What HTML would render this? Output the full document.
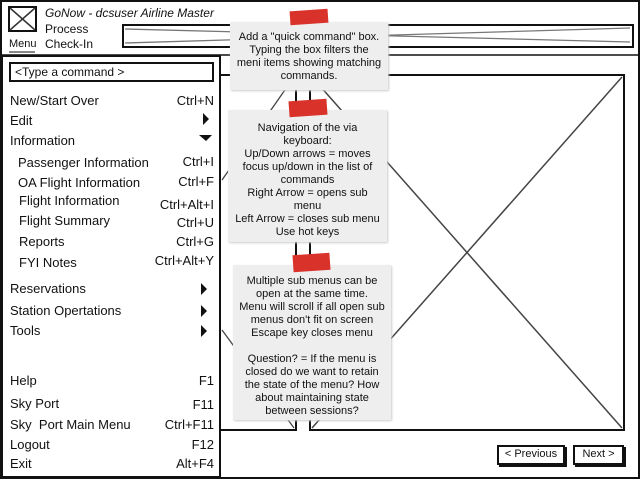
<!DOCTYPE html>
<html><head><meta charset="utf-8"><style>
body{margin:0;width:640px;height:480px;overflow:hidden;background:#fff;font-family:"Liberation Sans",sans-serif;color:#111;position:relative}
.t{position:absolute;font-size:13px;white-space:nowrap;line-height:15px}
.r{text-align:right}
.note{position:absolute;background:#eee;font-size:11px;line-height:13px;text-align:center;box-shadow:1px 1px 2px #ccc}
.tape{position:absolute;background:#d9322b;transform:rotate(-4deg)}
.btn{position:absolute;border:2px solid #111;box-shadow:2px 2px 0 #111;font-size:11px;text-align:center;line-height:15px;background:#fff}
</style></head><body>
<svg width="640" height="480" style="position:absolute;left:0;top:0">
<rect x="1" y="1" width="638" height="477" fill="none" stroke="#111" stroke-width="2"/>
<line x1="0" y1="55" x2="640" y2="55" stroke="#111" stroke-width="1.5"/>
<rect x="9" y="7" width="27" height="24" fill="none" stroke="#111" stroke-width="2"/>
<path d="M10 8L35 30M35 8L10 30" stroke="#333" stroke-width="1.5"/>
<line x1="9" y1="52" x2="35" y2="52" stroke="#111"/>
<rect x="123" y="25" width="510" height="22" fill="none" stroke="#111" stroke-width="2"/>
<path d="M125 29L630 42M125 43L630 28" fill="none" stroke="#777" stroke-width="1.3"/>
<rect x="310" y="75" width="314" height="355" fill="none" stroke="#111" stroke-width="2"/>
<path d="M312 77L622 428M622 77L312 428" stroke="#444" stroke-width="1.5"/>
<path d="M220 75H296V430H220" fill="none" stroke="#111" stroke-width="2"/>
<path d="M294 77L222 180M222 330L294 428" stroke="#444" stroke-width="1.3"/>
<line x1="296" y1="75" x2="296" y2="430" stroke="#111" stroke-width="2"/>
<line x1="310" y1="75" x2="310" y2="430" stroke="#111" stroke-width="2"/>
<rect x="2" y="56" width="218" height="421" fill="#fff" stroke="#111" stroke-width="2"/>
<rect x="10" y="63" width="203" height="18" fill="none" stroke="#111" stroke-width="2"/>
<path d="M203 113l6 6-6 6zM199 135h13l-6 6z" fill="#111"/>
<path d="M201 283l6 6-6 6zM201 305l6 6-6 6zM201 325l6 6-6 6z" fill="#111"/>
</svg>
<div class="t" style="left:45px;top:6px;font-size:12px;font-style:italic">GoNow - dcsuser Airline Master</div>
<div class="t" style="left:45px;top:22px;font-size:12px">Process</div>
<div class="t" style="left:45px;top:37px;font-size:12px">Check-In</div>
<div class="t" style="left:9px;top:37px;font-size:11px">Menu</div>
<div class="t" style="left:15px;top:65px;font-size:12px">&lt;Type a command &gt;</div>
<div class="t" style="left:10px;top:93px">New/Start Over</div><div class="t r" style="right:426px;top:93px">Ctrl+N</div>
<div class="t" style="left:10px;top:113px">Edit</div>
<div class="t" style="left:10px;top:133px">Information</div>
<div class="t" style="left:18px;top:155px">Passenger Information</div><div class="t r" style="right:426px;top:154px">Ctrl+I</div>
<div class="t" style="left:18px;top:175px">OA Flight Information</div><div class="t r" style="right:426px;top:174px">Ctrl+F</div>
<div class="t" style="left:19px;top:193px">Flight Information</div><div class="t r" style="right:426px;top:197px">Ctrl+Alt+I</div>
<div class="t" style="left:19px;top:213px">Flight Summary</div><div class="t r" style="right:426px;top:215px">Ctrl+U</div>
<div class="t" style="left:19px;top:234px">Reports</div><div class="t r" style="right:426px;top:234px">Ctrl+G</div>
<div class="t" style="left:19px;top:255px">FYI Notes</div><div class="t r" style="right:426px;top:253px">Ctrl+Alt+Y</div>
<div class="t" style="left:10px;top:281px">Reservations</div>
<div class="t" style="left:10px;top:303px">Station Opertations</div>
<div class="t" style="left:10px;top:323px">Tools</div>
<div class="t" style="left:10px;top:373px">Help</div><div class="t r" style="right:426px;top:373px">F1</div>
<div class="t" style="left:10px;top:396px">Sky Port</div><div class="t r" style="right:426px;top:397px">F11</div>
<div class="t" style="left:10px;top:417px">Sky&nbsp; Port Main Menu</div><div class="t r" style="right:426px;top:417px">Ctrl+F11</div>
<div class="t" style="left:10px;top:437px">Logout</div><div class="t r" style="right:426px;top:437px">F12</div>
<div class="t" style="left:10px;top:456px">Exit</div><div class="t r" style="right:426px;top:456px">Alt+F4</div>
<div class="note" style="left:230px;top:22px;width:158px;height:68px;padding-top:9px;box-sizing:border-box">Add a "quick command" box.<br>Typing the box filters the<br>meni items showing matching<br>commands.</div>
<div class="tape" style="left:290px;top:10px;width:38px;height:14px"></div>
<div class="note" style="left:228px;top:110px;width:159px;height:132px;padding-top:12px;box-sizing:border-box">Navigation of the via<br>keyboard:<br>Up/Down arrows = moves<br>focus up/down in the list of<br>commands<br>Right Arrow = opens sub<br>menu<br>Left Arrow = closes sub menu<br>Use hot keys</div>
<div class="tape" style="left:289px;top:100px;width:38px;height:16px"></div>
<div class="note" style="left:233px;top:265px;width:158px;height:155px;padding-top:10px;box-sizing:border-box">Multiple sub menus can be<br>open at the same time.<br>Menu will scroll if all open sub<br>menus don't fit on screen<br>Escape key closes menu<br><br>Question? = If the menu is<br>closed do we want to retain<br>the state of the menu? How<br>about maintaining state<br>between sessions?</div>
<div class="tape" style="left:293px;top:254px;width:37px;height:17px"></div>
<div class="btn" style="left:497px;top:445px;width:64px;height:16px">&lt; Previous</div>
<div class="btn" style="left:573px;top:445px;width:47px;height:16px">Next &gt;</div>
</body></html>
